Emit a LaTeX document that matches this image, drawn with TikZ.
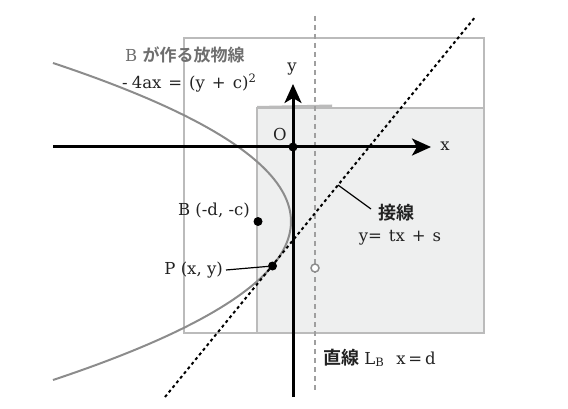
\documentclass[tikz,border=0pt]{standalone}
\usepackage{fontspec}
\setmainfont{DejaVu Serif}
\newfontfamily\jpfont{Noto Sans CJK JP}[BoldFont={* Bold}]
\usetikzlibrary{arrows.meta, positioning, calc}
\definecolor{boxgray}{HTML}{BBBBBB}
\definecolor{boxfill}{HTML}{EEEFEF}
\definecolor{curvegray}{HTML}{8C8C8C}
\definecolor{titlegray}{HTML}{6E6E6E}
\definecolor{inkdark}{HTML}{222222}
\newcommand{\gap}{\hspace{7pt}}
\tikzset{
    axis/.style={-{Stealth[length=19pt, width=17pt, inset=5pt]}, line width=3pt},
    box/.style={draw=boxgray, line width=2pt},
    guide/.style={draw=boxgray!85!black, line width=2pt, dash pattern=on 5pt off 4pt},
    tangent/.style={line width=2pt, dash pattern=on 3pt off 3pt},
    point/.style={fill, circle, inner sep=0pt, minimum size=9pt},
    hollow/.style={draw=curvegray, fill=white, circle, inner sep=0pt, minimum size=8pt, line width=1.5pt},
    lbl/.style={font=\fontsize{16.5}{19}\selectfont, text=inkdark, inner sep=0pt},
    jp/.style={font=\fontsize{18}{21}\selectfont\jpfont\bfseries, text=inkdark, inner sep=0pt}
}

\begin{document}
\begin{tikzpicture}[x=1pt, y=-1pt]
    \useasboundingbox (0,0) rectangle (568,409);
    % regions
    \draw[box] (184,38) rectangle (484,333);
    \filldraw[box, fill=boxfill] (257,108) rectangle (484,333);
    \fill[boxgray] (257,108) -- (257,106) -- (332,104.5) -- (332,108) -- cycle;
    % line L_B
    \coordinate (Ltop) at (315,16);
    \coordinate (Lbot) at (315,393);
    \draw[guide] (Ltop) -- (Lbot);
    % parabola
    \draw[curvegray, line width=2pt] plot[domain=63:380, samples=80, variable=\t]
        ({291-238*((\t-221.5)/158.5)^2}, \t);
    % tangent
    \coordinate (Tbot) at (165,397);
    \coordinate (Ttop) at (476,16);
    \draw[tangent] (Tbot) -- (Ttop);
    % axes
    \coordinate (xstart) at (53,147);
    \coordinate (xend) at (431,147);
    \coordinate (ystart) at (293,397);
    \coordinate (yend) at (293,84);
    \draw[axis] (xstart) -- (xend);
    \draw[axis] (ystart) -- (yend);
    \node[lbl] (xlabel) at (445,146) {x};
    \node[lbl] (ylabel) at (292,69) {y};
    % points
    \node[point] (O) at (293,147) {};
    \node[lbl] (Olabel) at (280,134) {O};
    \node[point] (B) at (258,221.5) {};
    \node[lbl, anchor=east] (Blabel) at (250,211) {B (-d, -c)};
    \node[point] (P) at (272.5,266) {};
    \node[lbl, anchor=east] (Plabel) at (223,270) {P (x, y)};
    \draw[line width=1.2pt] (Plabel.east) ++(3,0) coordinate (Pfoot) (Pfoot) -- (P);
    \node[hollow] (Q) at (315,268) {};
    % labels
    \node[lbl, anchor=west, text=titlegray] (parabtitle) at (125,55)
        {B {\jpfont\bfseries\fontsize{17}{20}\selectfont が作る放物線}};
    \node[lbl, anchor=west] (parabeq) at (122,83)
        {-\hspace{4pt}4ax\gap=\gap(y\gap+\gap c)\textsuperscript{2}};
    \coordinate (tanfoot) at (338,185);
    \coordinate (tantip) at (371,209);
    \draw[line width=1.2pt] (tanfoot) -- (tantip);
    \node[jp, anchor=west] (tanname) at (378,213) {接線};
    \node[lbl] (taneq) at (400,238) {y=\gap tx\gap+\gap s};
    \node[lbl, anchor=west] (Lname) at (323,358)
        {{\jpfont\bfseries\fontsize{18}{21}\selectfont 直線} L\textsubscript{B}\hspace{12pt}x\,=\,d};
\end{tikzpicture}
\end{document}
